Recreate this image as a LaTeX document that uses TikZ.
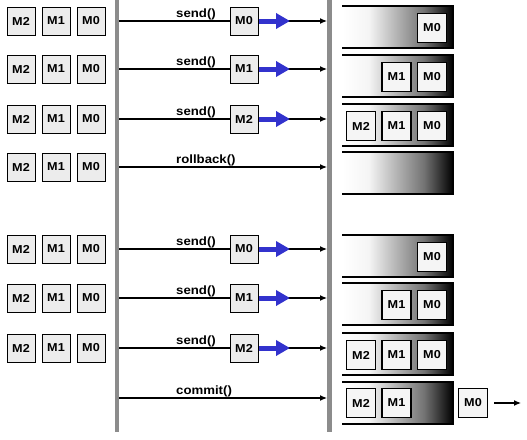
\documentclass[tikz,border=0pt]{standalone}
\usepackage{fontspec}
\setmainfont[FakeStretch=1.1]{Liberation Sans}
\usetikzlibrary{arrows.meta}
\definecolor{msgblue}{RGB}{50,50,205}
\definecolor{bargray}{RGB}{140,140,140}
\pgfdeclarehorizontalshading{queue}{100bp}{color(0bp)=(white); color(25bp)=(white); color(37bp)=(white!96!black); color(62bp)=(black!55); color(75bp)=(black); color(100bp)=(black)}
\begin{document}
\begin{tikzpicture}[x=1pt,y=-1pt,
  bar/.style={draw=bargray,line width=4.5pt},
  msgline/.style={draw=black,line width=1.2pt,-{Latex[length=7pt,width=6pt]}},
  lbl/.style={anchor=south west,inner sep=0pt,font=\fontsize{12}{12}\selectfont\bfseries},
  mbox/.style={draw=black,line width=1pt,fill=gray!15,minimum width=28pt,minimum height=28pt,inner sep=0pt,font=\fontsize{11.5}{12}\selectfont\bfseries},
  qbox/.style={mbox,minimum width=29pt,minimum height=29pt,line width=1.3pt,fill=gray!8},
  bluearrow/.style={draw=msgblue,line width=5pt,-{Triangle[length=14pt,width=15pt]}},
  qedge/.style={draw=black,line width=1.8pt},
  outarrow/.style={draw=black,line width=1.2pt,-{Latex[length=7pt,width=6pt]}}]
\useasboundingbox (0,0) rectangle (527,439);
% vertical bars
\coordinate (lbTop) at (117,0);
\coordinate (lbBot) at (117,432);
\coordinate (rbTop) at (329.5,0);
\coordinate (rbBot) at (329.5,432);
\draw[bar] (lbTop) -- (lbBot);
\draw[bar] (rbTop) -- (rbBot);
% message lines and labels
\foreach \r/\Y/\lab in {1/21/{send()},2/69/{send()},3/119/{send()},4/167/{rollback()},5/249/{send()},6/298/{send()},7/348/{send()},8/398/{commit()}}{
  \coordinate (s\r) at (119,\Y);
  \coordinate (e\r) at (327,\Y);
  \draw[msgline] (s\r) -- (e\r);
  \node[lbl] (lab\r) at (176,\Y-1) {\lab};
}
% left message stacks
\foreach \r/\Y in {1/21,2/69,3/119,4/167,5/249,6/298,7/348}{
  \node[mbox] (L\r-2) at (21,\Y) {M2};
  \node[mbox] (L\r-1) at (56,\Y) {M1};
  \node[mbox] (L\r-0) at (91,\Y) {M0};
}
% messages being sent
\foreach \r/\Y/\k in {1/21/0,2/69/1,3/119/2,5/249/0,6/298/1,7/348/2}{
  \node[mbox] (m\r) at (244,\Y) {M\k};
  \coordinate (t\r) at (290,\Y);
  \draw[bluearrow] (m\r.east) -- (t\r);
}
% queues
\foreach \r/\T in {1/6,2/55,3/104,4/152,5/235,6/283,7/333,8/382}{
  \shade[shading=queue] (342,\T) rectangle (453,\T+42);
  \draw[qedge] (342,\T) -- (453,\T) -- (453,\T+42) -- (342,\T+42);
}
\foreach \r/\T/\n in {1/6/1,2/55/2,3/104/3,5/235/1,6/283/2,7/333/3}{
  \foreach \k in {1,...,\n}{
    \pgfmathtruncatemacro\idx{\k-1}
    \node[qbox] (Q\r-\idx) at ({432-35.5*(\k-1)},{\T+22}) {M\idx};
  }
}
% commit row
\node[qbox] (Q8-2) at (361,403) {M2};
\node[qbox] (Q8-1) at (396.5,403) {M1};
\node[qbox] (out0) at (473,403) {M0};
\coordinate (outEnd) at (521,403);
\draw[outarrow] ([xshift=6pt]out0.east) -- (outEnd);
\end{tikzpicture}
\end{document}
